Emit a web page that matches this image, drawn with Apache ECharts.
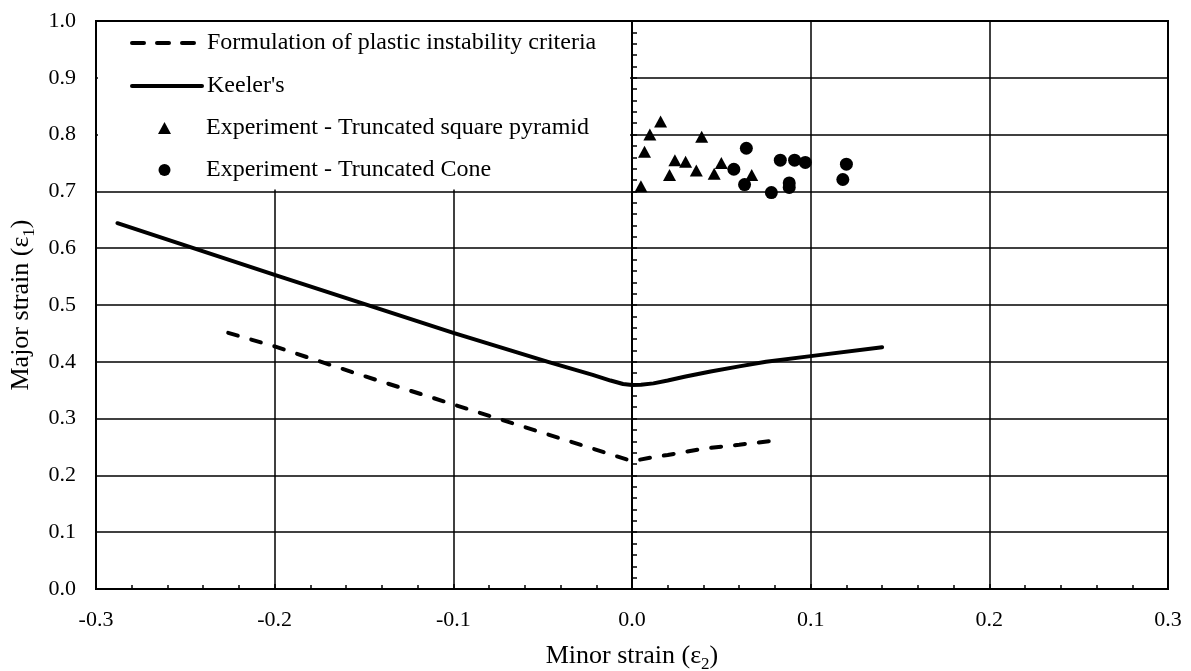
<!DOCTYPE html>
<html>
<head>
<meta charset="utf-8">
<title>Forming limit</title>
<script src="https://cdn.jsdelivr.net/npm/echarts@6.0.0/dist/echarts.min.js"></script>
<style>
  html, body { margin: 0; padding: 0; background: #fff; }
  #chart { width: 1191px; height: 671px; }
</style>
</head>
<body>
<div id="chart"></div>
<script>
// [minor strain, major strain]
var plasticCriteria = [
    [-0.226, 0.451], [-0.2, 0.427], [-0.15, 0.375], [-0.1, 0.325], [-0.05, 0.275],
    [0, 0.225], [0.01, 0.231], [0.02, 0.236], [0.04, 0.247], [0.06, 0.254], [0.079, 0.261]
];
var keeler = [
    [-0.288, 0.644], [-0.2, 0.553], [-0.1, 0.451], [-0.047, 0.4], [-0.035, 0.389],
    [-0.022, 0.377], [-0.012, 0.367], [-0.005, 0.361], [0, 0.359], [0.005, 0.3595],
    [0.012, 0.362], [0.02, 0.367], [0.03, 0.374], [0.044, 0.383], [0.06, 0.392],
    [0.075, 0.4], [0.1, 0.41], [0.14, 0.4255]
];
var pyramidPoints = [
    [0.005, 0.709], [0.007, 0.770], [0.010, 0.800], [0.016, 0.823], [0.021, 0.729], [0.024, 0.755],
    [0.030, 0.752], [0.036, 0.737], [0.039, 0.796], [0.046, 0.731], [0.050, 0.750], [0.067, 0.729]
];
var conePoints = [
    [0.057, 0.739], [0.063, 0.712], [0.064, 0.776], [0.078, 0.698], [0.083, 0.755], [0.088, 0.715],
    [0.088, 0.707], [0.091, 0.755], [0.097, 0.751], [0.118, 0.721], [0.120, 0.748]
];
var seriesNames = [
    'Formulation of plastic instability criteria',
    "Keeler's",
    'Experiment - Truncated square pyramid',
    'Experiment - Truncated Cone'
];

var font = 'Liberation Serif';
var fmt = function (v) { return v.toFixed(1); };
var subRich = {
    sub: { fontSize: 17, fontFamily: font, color: '#000', verticalAlign: 'bottom', lineHeight: 33 }
};
var legendText = { fontFamily: font, fontSize: 24, color: '#000' };

var chart = echarts.init(document.getElementById('chart'));
var option = {
    animation: false,
    backgroundColor: '#fff',
    textStyle: { fontFamily: font, color: '#000' },
    grid: {
        left: 96, right: 23, top: 21, bottom: 82,
        outerBoundsMode: 'none',
        show: true, borderColor: '#000', borderWidth: 2
    },
    graphic: [{
        type: 'rect',
        z: 1,
        shape: { x: 98, y: 22, width: 532, height: 167.5 },
        style: { fill: '#fff' },
        silent: true
    }],
    legend: [{
        // line entries: plain line, no symbol in the middle
        orient: 'vertical',
        left: 130, top: 31,
        padding: 0,
        itemWidth: 70, itemHeight: 12,
        itemGap: 19,
        data: [
            { name: seriesNames[0], itemStyle: { opacity: 0 }, lineStyle: { color: '#000', width: 4, type: [12, 13], cap: 'round' } },
            { name: seriesNames[1], itemStyle: { opacity: 0 }, lineStyle: { color: '#000', width: 4, cap: 'round' } }
        ],
        textStyle: legendText
    }, {
        // marker entries
        orient: 'vertical',
        left: 158, top: 116,
        padding: 0,
        itemWidth: 13, itemHeight: 12,
        itemGap: 18,
        data: [seriesNames[2], seriesNames[3]],
        textStyle: { fontFamily: font, fontSize: 24, color: '#000', padding: [0, 0, 0, 30] }
    }],
    xAxis: {
        type: 'value',
        min: -0.3, max: 0.3, interval: 0.1,
        name: 'Minor strain (ε{sub|2})',
        nameLocation: 'middle', nameGap: 51,
        nameTextStyle: { fontFamily: font, fontSize: 26, color: '#000', rich: subRich },
        axisLine: { onZero: false, lineStyle: { color: '#000', width: 2 } },
        axisTick: { show: true, inside: true, length: 5, lineStyle: { color: '#000', width: 1.5 } },
        minorTick: { show: true, splitNumber: 5, length: 4, lineStyle: { color: '#000', width: 1.5 } },
        axisLabel: { formatter: fmt, fontSize: 22, color: '#000', fontFamily: font, margin: 20 },
        splitLine: { show: true, lineStyle: { color: '#000', width: 1.5 } }
    },
    yAxis: [{
        type: 'value',
        min: 0, max: 1, interval: 0.1,
        position: 'left',
        name: 'Major strain (ε{sub|1})',
        nameLocation: 'middle', nameGap: 58,
        nameTextStyle: { fontFamily: font, fontSize: 26, color: '#000', rich: subRich },
        axisLine: { onZero: false, lineStyle: { color: '#000', width: 2 } },
        axisTick: { show: false },
        axisLabel: { formatter: fmt, fontSize: 22, color: '#000', fontFamily: font, margin: 20 },
        splitLine: { show: true, lineStyle: { color: '#000', width: 1.5 } }
    }, {
        type: 'value',
        min: 0, max: 1, interval: 0.1,
        position: 'left',
        axisLine: { show: true, onZero: true, onZeroAxisIndex: 0, lineStyle: { color: '#000', width: 2 } },
        axisTick: { show: true, inside: true, length: 5, lineStyle: { color: '#000', width: 1.5 } },
        minorTick: { show: true, splitNumber: 5, length: 5, lineStyle: { color: '#000', width: 1.5 } },
        axisLabel: { show: false },
        splitLine: { show: false }
    }],
    series: [
        {
            name: seriesNames[0],
            type: 'line',
            data: plasticCriteria,
            symbol: 'none',
            z: 3,
            lineStyle: { color: '#000', width: 4, type: [10, 14], cap: 'round' },
            itemStyle: { color: '#000' }
        },
        {
            name: seriesNames[1],
            type: 'line',
            data: keeler,
            symbol: 'none',
            z: 3,
            lineStyle: { color: '#000', width: 4, cap: 'round', join: 'round' },
            itemStyle: { color: '#000' }
        },
        {
            name: seriesNames[2],
            type: 'scatter',
            data: pyramidPoints,
            symbol: 'triangle',
            symbolSize: [13, 12],
            z: 3,
            itemStyle: { color: '#000', opacity: 1 }
        },
        {
            name: seriesNames[3],
            type: 'scatter',
            data: conePoints,
            symbol: 'circle',
            symbolSize: 13,
            z: 3,
            itemStyle: { color: '#000', opacity: 1 }
        }
    ]
};
chart.setOption(option);
</script>
</body>
</html>
